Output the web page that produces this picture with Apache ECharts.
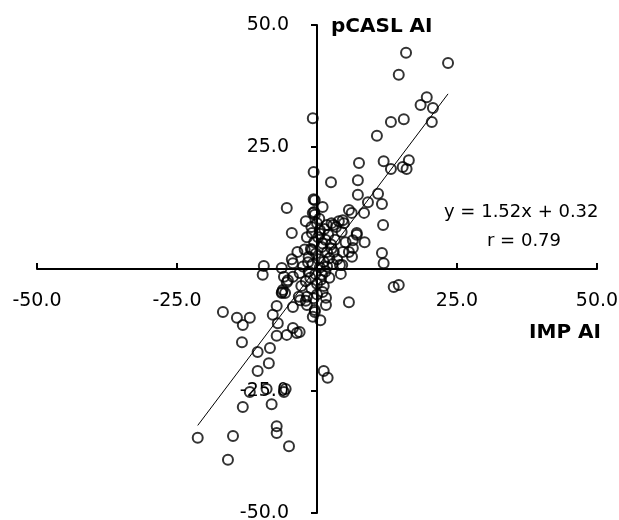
<!DOCTYPE html>
<html>
<head>
<meta charset="utf-8">
<script src="https://cdn.jsdelivr.net/npm/echarts@6/dist/echarts.min.js"></script>
<style>html,body{margin:0;padding:0;background:#fff}#c{width:619px;height:520px}</style>
</head>
<body>
<div id="c"></div>
<script>
// IMP AI (x) and pCASL AI (y) values
var impX = [-0.75,10.7,13.2,15.5,14.6,15.9,23.4,19.6,18.5,20.7,20.5,7.5,11.9,13.2,15.3,16.0,16.4,-0.6,2.5,7.3,
  7.3,10.9,-0.6,9.1,8.4,11.6,11.8,8.5,7.1,11.6,11.9,5.7,6.2,3.9,4.8,3.4,4.4,5.1,6.4,5.7,
  4.1,4.25,5.7,13.7,14.6,-0.4,1.0,-0.75,-5.4,-2.0,-4.5,0,-0.9,0.5,1.75,2.6,-0.9,-4.5,-9.5,-9.7,
  -6.3,-5.9,-3.1,-4.3,-5.4,-6.1,-6.3,-3.25,-4.3,-1.8,-0.4,-0.75,1.6,1.0,1.6,-7.2,-7.9,-7.0,-16.8,-14.3,
  -13.25,-12.0,-13.4,-10.6,-8.4,-7.2,-5.4,-4.3,-3.6,-3.1,-10.6,-8.6,-12.0,-9.0,-5.9,-5.6,-13.25,-8.1,-21.3,-15.0,
  -7.2,-7.2,-5.0,-15.9,1.2,1.9,-0.4,-4.3,-1.1,-1.6,-0.5,4.6,2.9,7.1,6.4,4.6,6.25,4.5,-0.4,-6.25,
  -5.7,-5.2,-3.0,-1.8,
  0.2,1.5,2.5,-0.5,0.8,1.8,-1.5,0.3,1.2,2.2,-0.8,0.5,1.5,-0.3,-1.2,0.7,-2.0,0.0,1.2,-1.0,
  2.8,3.0,-2.5,-2.8,0.5,1.0,-1.8,2.0,-0.2,0.9,2.2,-1.5,3.2,-2.2,0.0,1.8,-0.6,2.6,1.3,-1.0,
  0.4,-3.5,-2.0,3.6,0.6];
var pcaslY = [30.9,27.3,30.1,30.7,39.8,44.3,42.2,35.2,33.6,33.0,30.1,21.7,22.1,20.5,20.9,20.5,22.3,19.9,17.8,18.2,
  15.2,15.4,14.3,13.7,11.5,13.3,9.0,5.5,7.0,3.3,1.2,12.1,11.5,9.8,9.4,8.6,7.6,5.5,4.3,3.5,
  0.8,-1.0,-6.8,-3.7,-3.3,14.1,12.7,11.5,12.5,9.8,7.4,9.4,7.4,8.0,9.0,9.4,3.9,2.0,0.6,-1.2,
  0.2,-1.6,-0.8,-1.6,-2.7,-4.3,-4.9,-5.7,-7.8,-7.4,-8.4,-9.8,-7.4,-4.7,-5.9,-7.6,-9.4,-11.1,-8.8,-10.0,
  -11.5,-10.0,-15.0,-17.0,-16.2,-13.7,-13.5,-12.1,-13.1,-12.9,-20.9,-19.3,-25.2,-24.6,-25.2,-24.6,-28.3,-27.7,-34.6,-34.2,
  -32.2,-33.6,-36.3,-39.1,-20.9,-22.3,-8.8,1.2,4.1,1.4,11.7,10.0,9.0,7.4,5.9,3.5,2.5,0.8,11.1,-4.7,
  -4.9,-2.3,-6.4,-5.7,
  6.5,6.0,5.0,5.5,4.5,3.5,2.5,2.0,1.5,2.2,1.0,0.3,-0.5,-1.0,-1.8,-2.2,-2.5,-3.0,-3.5,-4.0,
  1.0,3.5,0.5,-3.5,7.2,5.2,6.5,7.0,3.2,-1.2,-1.8,-0.5,6.0,4.0,-5.2,0.5,-6.0,4.2,8.2,8.6,
  10.3,3.5,-6.5,2.0,-10.5];
var xTicks = [-50, -25, 0, 25, 50];
var yTicks = [-50, -25, 0, 25, 50];
var slope = 1.52, intercept = 0.32, rValue = 0.79;
var xTitle = 'IMP AI', yTitle = 'pCASL AI';

var pts = impX.map(function (x, i) { return [x, pcaslY[i]]; });
var xMin = Math.min.apply(null, impX), xMax = Math.max.apply(null, impX);
var fit = [[xMin, slope * xMin + intercept], [xMax, slope * xMax + intercept]];
function fmt(v) { return v === 0 ? '' : v.toFixed(1); }

var W = 619, H = 520;
var G = { left: 37, right: 22, top: 25, bottom: 7 };
var plotW = W - G.left - G.right, plotH = H - G.top - G.bottom;
// shift axes so they cross at the data origin (0,0)
var xOff = -plotH * (0 - yTicks[0]) / (yTicks[yTicks.length - 1] - yTicks[0]);
var yOff = -plotW * (0 - xTicks[0]) / (xTicks[xTicks.length - 1] - xTicks[0]);

var chart = echarts.init(document.getElementById('c'));
var font = 'DejaVu Sans';
chart.setOption({
  animation: false,
  backgroundColor: '#fff',
  grid: { left: G.left, right: G.right, top: G.top, bottom: G.bottom, containLabel: false, outerBoundsMode: 'none' },
  xAxis: {
    type: 'value', min: xTicks[0], max: xTicks[xTicks.length - 1], interval: 25,
    position: 'bottom', offset: xOff,
    axisLine: { onZero: false, lineStyle: { color: '#000', width: 2 } },
    axisTick: { inside: true, length: 6, lineStyle: { color: '#000', width: 2 } },
    axisLabel: { formatter: fmt, margin: 23, color: '#000', fontFamily: font, fontSize: 19, hideOverlap: false },
    splitLine: { show: false }
  },
  yAxis: {
    type: 'value', min: yTicks[0], max: yTicks[yTicks.length - 1], interval: 25,
    position: 'left', offset: yOff,
    axisLine: { onZero: false, lineStyle: { color: '#000', width: 2 } },
    axisTick: { inside: false, length: 6, lineStyle: { color: '#000', width: 2 } },
    axisLabel: { formatter: fmt, margin: 28, color: '#000', fontFamily: font, fontSize: 19, hideOverlap: false },
    splitLine: { show: false }
  },
  graphic: [
    { type: 'text', left: 331, top: 17, style: { text: yTitle, font: 'bold 20px "DejaVu Sans"', fill: '#000' } },
    { type: 'text', right: 18, top: 323, style: { text: xTitle, font: 'bold 20px "DejaVu Sans"', fill: '#000' } },
    { type: 'text', left: 444, top: 203, style: { text: 'y = ' + slope.toFixed(2) + 'x + ' + intercept.toFixed(2), font: '18px "DejaVu Sans"', fill: '#000' } },
    { type: 'text', left: 487, top: 232, style: { text: 'r = ' + rValue.toFixed(2), font: '18px "DejaVu Sans"', fill: '#000' } }
  ],
  series: [
    {
      type: 'line', data: fit, symbol: 'none', silent: true,
      lineStyle: { color: '#000', width: 1 }, z: 1
    },
    {
      type: 'scatter', data: pts, symbol: 'circle', symbolSize: 10,
      itemStyle: { color: 'rgba(0,0,0,0)', borderColor: '#000', borderWidth: 2 }, z: 2
    }
  ]
});
</script>
</body>
</html>
